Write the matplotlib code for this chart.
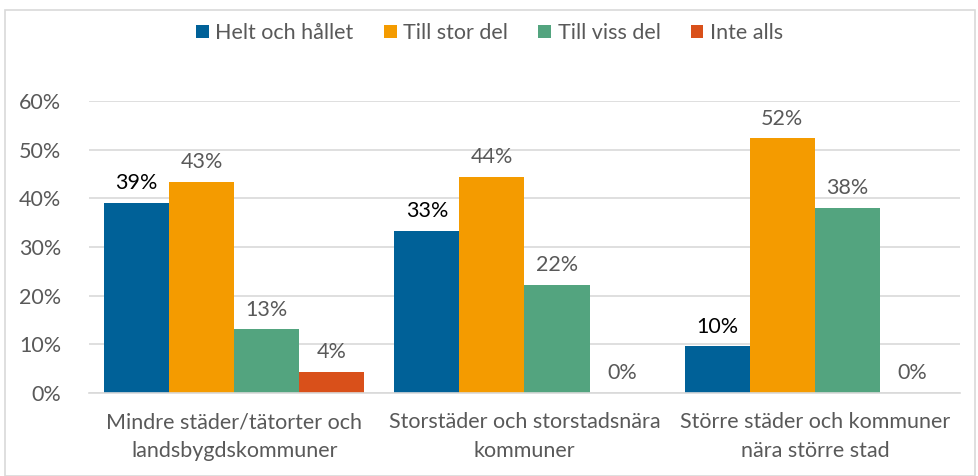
import matplotlib.pyplot as plt
import numpy as np
from matplotlib.patches import Rectangle

plt.rcParams['font.family'] = ['Lato', 'DejaVu Sans']

# data (percent)
categories = ['Mindre städer/tätorter och\nlandsbygdskommuner',
              'Storstäder och storstadsnära\nkommuner',
              'Större städer och kommuner\nnära större stad']
series = ['Helt och hållet', 'Till stor del', 'Till viss del', 'Inte alls']
helt = [39.1, 33.3, 9.6]
stor = [43.4, 44.4, 52.3]
viss = [13.1, 22.2, 38.1]
inte = [4.3, 0.0, 0.0]
colors = ['#006198', '#F49B00', '#53A47F', '#D9501A']

gray = '#595959'
fs = 15.5

fig = plt.figure(figsize=(9.79, 4.76), dpi=100)
fig.patches.append(Rectangle((5/979, 0.0), 970/979, 1 - 10/476, transform=fig.transFigure,
                             fill=False, edgecolor='#D9D9D9', linewidth=1.2))
ax = fig.add_axes([89/979, 1 - 393/476, 871/979, (393 - 101)/476])

x = np.arange(len(categories))
w = 0.224
values = [helt, stor, viss, inte]
for i, (name, vals, c) in enumerate(zip(series, values, colors)):
    pos = x + (i - 1.5) * w
    ax.bar(pos, vals, width=w, color=c, label=name, zorder=2)
    for p, v in zip(pos, vals):
        col = 'black' if i == 0 else gray
        ax.annotate(f'{round(v)}%', (p, v), xytext=(0, 7), textcoords='offset points',
                    ha='center', va='bottom', fontsize=fs, color=col)

ax.set_xlim(-0.5, 2.5)
ax.set_ylim(0, 60)
ax.set_yticks(np.arange(0, 61, 10))
ax.set_yticklabels([f'{t}%' for t in range(0, 61, 10)])
ax.set_xticks(x)
ax.set_xticklabels(categories, fontsize=fs, color=gray, linespacing=1.55)
ax.tick_params(axis='y', length=0, labelsize=fs, labelcolor=gray, pad=20)
ax.tick_params(axis='x', length=0, pad=14)
ax.grid(axis='y', color='#D9D9D9', linewidth=1.2, zorder=0)
ax.set_axisbelow(True)
for s in ['top', 'right', 'left']:
    ax.spines[s].set_visible(False)
ax.spines['bottom'].set_color('#D9D9D9')
ax.spines['bottom'].set_linewidth(1.2)

leg = fig.legend(loc='center', bbox_to_anchor=(0.5, 1 - 33/476), ncol=4, frameon=False,
                 fontsize=fs, handlelength=0.6, handleheight=0.6, handletextpad=0.3,
                 columnspacing=1.4)
for t in leg.get_texts():
    t.set_color(gray)

fig.savefig('out.png', dpi=100)
